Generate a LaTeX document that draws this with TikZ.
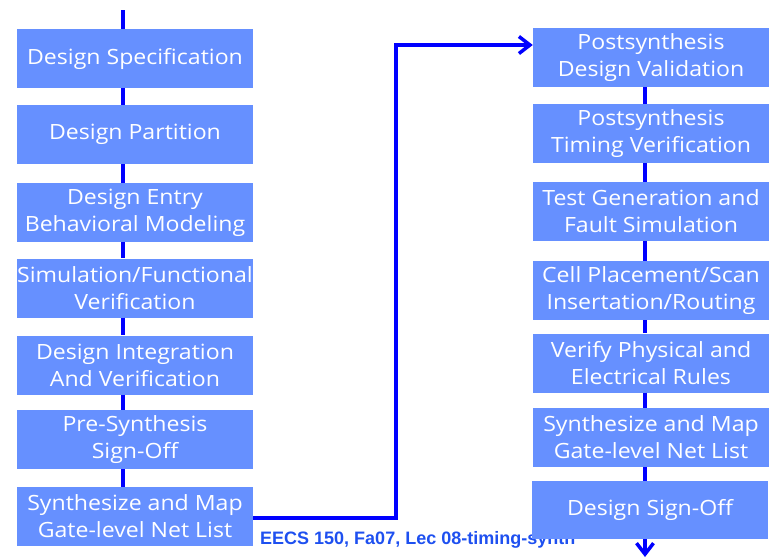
\documentclass[tikz,border=0pt]{standalone}
\usepackage{fontspec}
\setmainfont{Open Sans}[FakeStretch=1.1]
\newfontfamily\footfont{Liberation Sans}
\usetikzlibrary{arrows.meta}
\definecolor{boxblue}{RGB}{102,144,255}
\definecolor{lineblue}{RGB}{0,0,255}
\definecolor{foottext}{RGB}{30,80,240}
\tikzset{
  flowbox/.style={fill=boxblue, draw=none, minimum width=236pt, minimum height=59pt,
    inner sep=0pt, align=center, text=white,
    font=\fontsize{21}{27}\selectfont},
  spine/.style={draw=lineblue, line width=4pt},
  link/.style={draw=lineblue, line width=3.5pt},
  tip/.style={-{Straight Barb[length=11pt,width=17pt,line width=3.5pt]}}
}
\begin{document}
\begin{tikzpicture}[x=1pt,y=-1pt]
\useasboundingbox (0,0) rectangle (781,558);
% footer text (partly hidden behind last box)
\node[anchor=base west, inner sep=0pt, text=foottext, font=\footfont\bfseries\fontsize{18}{20}\selectfont] (foot) at (260,544) {EECS 150, Fa07, Lec 08-timing-synth};
% left column
\node[flowbox] (l1) at (135,58.5) {Design Specification};
\node[flowbox] (l2) at (135,134.5) {Design Partition};
\node[flowbox] (l3) at (135,212.5) {Design Entry\\Behavioral Modeling};
\node[flowbox] (l4) at (135,288) {Simulation/Functional\\Verification};
\node[flowbox] (l5) at (135,365) {Design Integration\\And Verification};
\node[flowbox] (l6) at (135,439.5) {Pre-Synthesis\\Sign-Off};
\node[flowbox] (l7) at (135,516.5) {Synthesize and Map\\Gate-level Net List};
% right column
\node[flowbox] (r1) at (651,57.5) {Postsynthesis\\Design Validation};
\node[flowbox] (r2) at (651,133.5) {Postsynthesis\\Timing Verification};
\node[flowbox] (r3) at (651,211.5) {Test Generation and\\Fault Simulation};
\node[flowbox] (r4) at (651,290.5) {Cell Placement/Scan\\Insertation/Routing};
\node[flowbox] (r5) at (651,363) {Verify Physical and\\Electrical Rules};
\node[flowbox] (r6) at (651,437.5) {Synthesize and Map\\Gate-level Net List};
\node[flowbox, minimum height=58pt] (r7) at (650,510) {Design Sign-Off};
% spine coordinates
\coordinate (ls) at (122.5,0);
\coordinate (rs) at (645,0);
\coordinate (top) at (122.5,10);
\coordinate (turn) at (396,45);
\coordinate (bottom) at (645,557);
% left spine
\draw[spine] (top) -- (l1.north -| ls);
\foreach \a/\b in {l1/l2,l2/l3,l3/l4,l4/l5,l5/l6,l6/l7}
  \draw[spine] (\a.south -| ls) -- (\b.north -| ls);
% right spine
\foreach \a/\b in {r1/r2,r2/r3,r3/r4,r4/r5,r5/r6,r6/r7}
  \draw[spine] (\a.south -| rs) -- (\b.north -| rs);
% crossover
\draw[link, tip] ([yshift=-1.5pt]l7.east) -| (turn) -- (r1.west |- turn);
\draw[link, tip] (r7.south -| rs) -- (bottom);
\end{tikzpicture}
\end{document}
